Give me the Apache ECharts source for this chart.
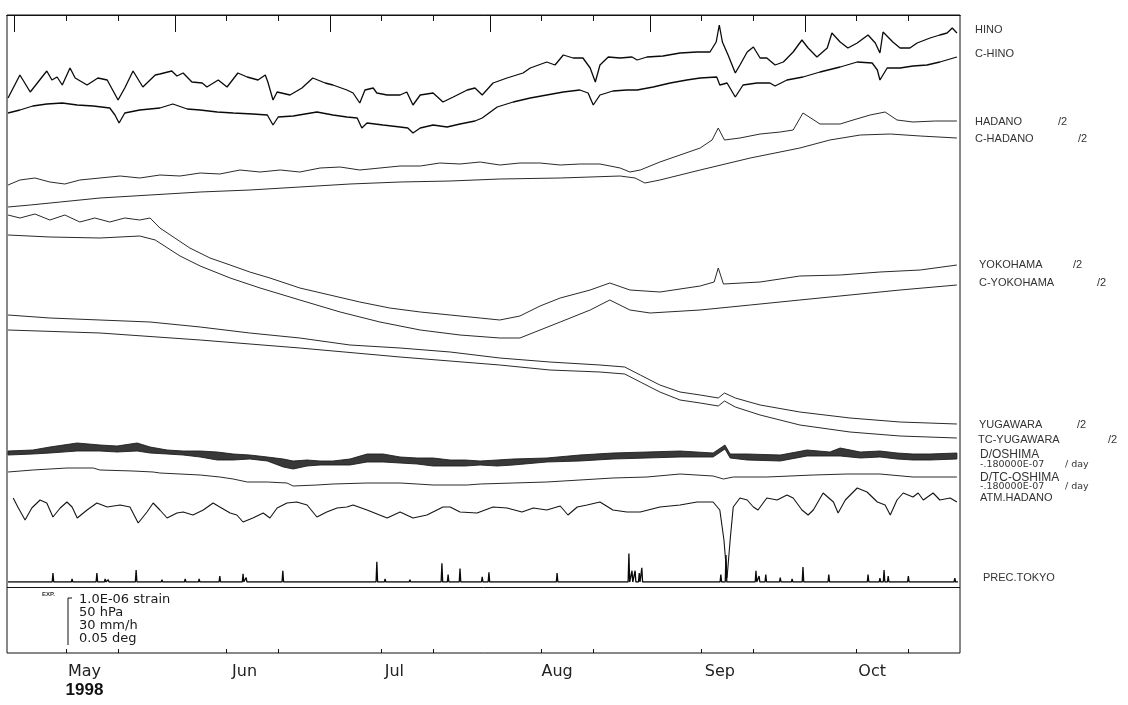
<!DOCTYPE html>
<html>
<head>
<meta charset="utf-8">
<script src="https://cdn.jsdelivr.net/npm/echarts@6/dist/echarts.min.js"></script>
<style>
html, body { margin: 0; padding: 0; background: #fff; }
#chart { width: 1128px; height: 705px; }
</style>
</head>
<body>
<div id="chart"></div>
<script>
// Time axis: day 0 = 1 May 1998. Trace levels are in plot units (offset strip chart, 0 = top edge).
const monthStarts = [0, 31, 61, 92, 123, 153];
const tenDayMarks = [10, 20, 41, 51, 71, 81, 102, 112, 133, 143, 163, 173];
const monthNames = ['May', 'Jun', 'Jul', 'Aug', 'Sep', 'Oct'];
const monthLabelDays = [13.5, 44.5, 73.5, 105, 136.5, 166];
const yearLabel = '1998';

const traceNames = ['HINO', 'C-HINO', 'HADANO', 'C-HADANO', 'YOKOHAMA', 'C-YOKOHAMA',
  'YUGAWARA', 'TC-YUGAWARA', 'D/OSHIMA', 'D/TC-OSHIMA', 'ATM.HADANO', 'PREC.TOKYO'];
const traceDivisors = ['', '', '/2', '/2', '/2', '/2', '/2', '/2', '', '', '', ''];
const driftRate = '-.180000E-07';
const driftUnit = '/ day';
const scaleNotes = ['1.0E-06 strain', '50 hPa', '30 mm/h', '0.05 deg'];
const expNote = 'EXP.';

const hino = [[-1.3,83],[1.0,60],[3.0,77],[6.2,56],[7.2,65],[8.2,62],[9.2,70],[10.7,53],[11.7,63],[14.0,70],[16.1,63],[17.9,65],[20.0,85],[21.3,73],[22.9,56],[24.8,72],[27.2,60],[28.1,59],[30.4,56],[31.4,61],[32.6,58],[34.3,67],[36.3,68],[37.2,72],[39.4,65],[41.1,72],[43.2,58],[45.0,62],[47.1,65],[48.5,60],[49.0,67],[50.0,85],[50.8,77],[53.3,80],[55.6,73],[57.7,63],[60.1,68],[61.6,70],[64.3,75],[65.5,78],[66.8,88],[67.8,75],[69.4,73],[70.1,78],[72.1,80],[74.6,80],[75.9,77],[77.1,90],[78.5,80],[81.0,78],[82.9,87],[84.9,82],[87.6,75],[89.1,73],[90.5,80],[92.6,68],[95.3,63],[98.4,58],[99.8,53],[103.0,47],[104.6,50],[106.2,40],[108.1,43],[110.0,43],[111.4,53],[112.4,67],[113.3,50],[114.9,42],[117.2,43],[119.5,42],[120.5,45],[122.4,42],[125.5,41],[128.8,38],[132.1,37],[134.6,37],[135.8,27],[136.4,10],[137.0,27],[138.1,40],[139.5,58],[140.4,50],[141.8,37],[143.0,32],[144.3,43],[145.6,43],[147.2,50],[148.8,47],[150.7,37],[152.4,25],[153.6,33],[155.3,42],[157.3,33],[158.2,18],[159.8,27],[161.3,33],[163.1,28],[165.2,20],[166.6,28],[167.5,38],[168.1,17],[170.0,27],[171.4,33],[173.3,33],[174.7,28],[177.2,23],[179.1,20],[180.5,18],[181.5,13],[182.4,18]];

const cHino = [[-1.3,98],[1.0,95],[3.5,91],[6.2,89],[9.2,88],[12.1,90],[15.2,91],[18.4,93],[19.4,100],[20.2,108],[21.3,98],[24.2,95],[28.1,93],[30.6,89],[33.4,94],[35.9,95],[39.2,97],[42.3,98],[46.1,99],[48.9,100],[50.0,110],[51.0,102],[53.9,101],[58.5,97],[61.6,100],[64.3,102],[66.3,103],[67.2,113],[68.2,108],[71.3,110],[74.6,112],[76.1,113],[77.1,118],[78.5,113],[81.0,110],[83.7,112],[86.2,109],[89.1,106],[90.5,103],[93.4,92],[96.5,87],[99.8,83],[103.0,80],[106.2,77],[109.4,75],[111.0,78],[112.0,90],[113.3,80],[115.8,76],[118.5,75],[120.5,75],[123.6,72],[126.9,68],[130.1,65],[132.7,63],[135.9,62],[136.5,70],[137.9,68],[139.5,82],[141.0,70],[143.7,68],[146.2,68],[147.2,71],[149.5,65],[152.6,62],[155.9,57],[159.8,52],[163.1,47],[166.0,48],[167.0,55],[167.5,65],[168.9,53],[171.4,53],[173.9,51],[176.6,50],[179.1,47],[182.4,42]];

const hadano = [[-1.3,170],[1.0,165],[3.9,163],[6.8,167],[9.7,169],[12.6,165],[16.5,163],[20.4,161],[24.2,163],[28.1,160],[32.0,161],[35.9,158],[39.7,159],[43.6,155],[47.5,157],[51.4,155],[55.2,157],[59.1,153],[63.0,152],[66.8,155],[70.7,153],[74.6,151],[78.5,151],[82.3,148],[86.2,149],[90.1,147],[93.9,150],[97.8,148],[101.7,148],[105.6,150],[109.4,149],[113.3,149],[117.2,153],[119.1,157],[121.1,155],[124.9,147],[128.8,140],[132.7,133],[135.0,125],[136.2,113],[137.4,125],[140.4,123],[144.3,119],[148.2,117],[150.7,115],[152.6,98],[155.9,109],[159.8,109],[162.3,105],[165.6,100],[168.5,97],[170.8,105],[173.9,107],[178.2,106],[182.4,106]];

const cHadano = [[-1.3,192],[3.0,190],[8.8,187],[16.5,183],[26.2,180],[35.9,177],[45.5,175],[55.2,172],[64.9,169],[74.6,167],[84.3,166],[93.9,164],[105.6,163],[117.2,161],[120.1,163],[122.0,168],[124.9,165],[132.7,155],[142.4,143],[152.0,133],[157.8,125],[163.7,120],[169.5,119],[175.3,121],[182.4,123]];

const yokohama = [[-1.3,200],[1.0,203],[3.9,199],[6.8,205],[9.7,200],[12.6,207],[15.5,203],[18.4,207],[21.3,203],[24.2,205],[26.2,203],[28.1,213],[31.0,223],[33.9,233],[37.8,243],[41.7,250],[45.5,257],[49.4,263],[55.2,273],[61.0,280],[66.8,287],[72.6,293],[78.5,297],[84.3,300],[90.1,303],[93.9,305],[97.8,301],[101.7,291],[105.6,283],[111.4,275],[115.2,268],[119.1,275],[124.9,277],[132.7,271],[135.4,267],[136.2,253],[137.2,269],[144.3,267],[152.0,261],[159.8,260],[167.5,257],[175.3,255],[182.4,250]];

const cYokohama = [[-1.3,220],[6.8,222],[16.5,223],[24.2,221],[27.2,225],[32.0,241],[35.9,251],[41.7,263],[47.5,273],[55.2,285],[63.0,297],[70.7,307],[78.5,315],[86.2,320],[93.9,323],[97.8,323],[101.7,315],[105.6,307],[111.4,295],[115.2,285],[119.1,295],[123.0,298],[132.7,295],[142.4,290],[152.0,285],[161.7,280],[171.4,275],[182.4,270]];

const yugawara = [[-1.3,300],[6.8,303],[16.5,305],[26.2,307],[35.9,312],[45.5,318],[55.2,323],[64.9,330],[74.6,333],[84.3,337],[93.9,343],[103.6,347],[113.3,350],[118.1,352],[121.1,360],[124.9,370],[128.8,377],[132.7,380],[136.2,383],[137.4,378],[139.5,383],[144.3,390],[152.0,397],[161.7,403],[171.4,407],[182.4,409]];

const tcYugawara = [[-1.3,315],[16.5,318],[35.9,325],[55.2,333],[74.6,342],[93.9,350],[103.6,355],[113.3,357],[118.1,359],[121.1,367],[124.9,377],[128.8,385],[132.7,388],[136.2,391],[137.4,386],[139.5,392],[144.3,400],[152.0,410],[161.7,417],[171.4,421],[182.4,423]];

// D/OSHIMA: centre level and half-spread of the daily tidal swing
const oshima = [[-1.3,438],[3.5,437],[6.8,435],[12.1,432],[16.5,433],[19.8,434],[23.7,432],[26.2,435],[29.5,437],[32.6,438],[35.9,439],[39.2,441],[42.3,442],[45.5,442],[48.9,444],[52.0,448],[53.9,450],[56.6,448],[59.1,448],[61.6,448],[64.9,447],[68.2,443],[71.3,443],[74.6,445],[77.9,446],[81.0,447],[84.3,448],[87.2,448],[90.1,448],[93.4,448],[96.5,447],[103.0,445],[109.4,443],[115.8,441],[122.4,440],[128.8,439],[135.2,440],[137.5,432],[138.5,441],[141.8,442],[148.2,443],[153.4,438],[157.8,439],[159.8,437],[163.7,440],[167.5,439],[170.8,441],[173.9,442],[177.2,442],[182.4,441]];
const oshimaSpread = [2,2,3,4,3,3,4,3,2,2,3,4,3,2,2,4,4,3,2,2,3,4,4,3,3,4,3,3,2,3,3,2,3,3,3,3,2,2,2,3,3,3,2,4,3,3,3,3,3,3];

const tcOshima = [[-1.3,457],[3.5,455],[10.1,453],[15.2,453],[16.5,455],[22.9,456],[26.8,457],[28.1,458],[35.9,460],[39.7,462],[42.3,464],[45.0,467],[48.9,467],[52.7,468],[53.9,471],[58.5,470],[61.6,469],[68.2,468],[74.6,468],[77.9,469],[81.0,470],[87.6,470],[90.1,469],[96.5,468],[103.0,467],[109.4,465],[115.8,463],[122.4,462],[128.8,459],[135.2,461],[137.2,464],[139.1,462],[145.6,462],[154.6,460],[161.1,459],[167.5,459],[173.9,462],[182.4,462]];

const atmHadano = [[-0.3,483],[0.6,492],[2.0,505],[3.3,493],[4.9,485],[6.2,488],[7.4,502],[8.8,493],[10.1,487],[11.1,492],[12.1,503],[14.0,495],[15.9,488],[17.9,492],[20.4,490],[22.3,492],[23.9,508],[25.6,497],[26.8,488],[28.1,495],[29.5,503],[31.4,498],[32.6,497],[34.5,500],[36.5,495],[38.4,488],[39.7,492],[41.7,498],[43.0,500],[44.2,507],[46.1,503],[48.1,498],[49.4,503],[50.8,493],[52.7,488],[54.6,487],[56.6,490],[58.5,502],[60.4,497],[62.4,493],[64.3,492],[65.5,490],[68.2,495],[72.1,503],[74.6,497],[77.1,503],[79.8,500],[82.9,492],[84.3,492],[86.2,497],[89.5,498],[92.6,492],[95.3,493],[98.2,497],[100.4,493],[103.0,495],[105.6,491],[107.1,500],[108.9,492],[110.8,490],[113.3,487],[115.8,495],[118.5,497],[121.1,497],[124.9,492],[128.8,490],[132.1,487],[135.2,487],[136.5,495],[137.3,525],[137.9,563],[138.5,525],[139.1,492],[140.4,483],[141.8,485],[143.0,492],[143.9,495],[145.6,483],[147.6,485],[149.5,480],[150.7,483],[152.4,495],[153.6,500],[154.6,495],[156.5,478],[158.5,487],[159.4,498],[160.8,485],[163.1,473],[165.0,477],[167.0,487],[168.5,490],[169.5,500],[170.8,485],[172.0,478],[173.9,482],[174.9,478],[175.9,485],[177.8,478],[179.1,485],[181.1,483],[182.4,487]];

// Hourly precipitation peaks, mm/h
const precipDays = [7.4, 11.1, 15.9, 17.5, 18.1, 23.5, 28.5, 33.0, 35.7, 39.7, 44.2, 44.8, 51.9, 70.1, 71.7, 76.5, 82.7, 83.9, 86.2, 90.5, 91.8, 105.0, 118.9, 119.5, 120.1, 120.9, 121.4, 136.7, 137.7, 143.5, 144.1, 145.4, 148.2, 150.5, 152.6, 157.6, 165.2, 167.5, 168.3, 169.1, 173.0, 182.0];
const precipRate = [6, 2, 6, 2, 1.5, 8, 1.5, 2, 2, 4, 5.5, 3, 7.5, 13.5, 2, 1.5, 12.5, 5, 9, 3.5, 6.5, 6, 19, 7.5, 7.5, 6, 9.5, 5, 18, 7.5, 4, 5, 3, 2, 10, 5, 5, 2.5, 8, 4, 4, 2.5];

const chart = echarts.init(document.getElementById('chart'), null, { renderer: 'canvas' });

const INK = '#111';
const TRACE = '#2a2a2a';

function trace(name, data, width, color, extra) {
  return Object.assign({
    name: name, type: 'line', xAxisIndex: 0, yAxisIndex: 0, data: data,
    showSymbol: false, symbol: 'none', silent: true, animation: false,
    lineStyle: { width: width, color: color }
  }, extra || {});
}

// tidal envelope of D/OSHIMA drawn as a filled band through the axis scales
const oshimaEnvelope = {
  name: 'D/OSHIMA', type: 'custom', xAxisIndex: 0, yAxisIndex: 0,
  silent: true, animation: false, clip: true,
  data: [oshima[0]],
  renderItem: function (params, api) {
    const upper = oshima.map((p, i) => api.coord([p[0], p[1] - oshimaSpread[i]]));
    const lower = oshima.map((p, i) => api.coord([p[0], p[1] + oshimaSpread[i]])).reverse();
    return {
      type: 'polygon',
      shape: { points: upper.concat(lower) },
      style: { fill: '#1c1c1c', stroke: '#1c1c1c', lineWidth: 1, opacity: 0.88 }
    };
  }
};

const precipLine = [[-1.3, 0]];
precipDays.forEach((d, i) => {
  precipLine.push([d - 0.15, 0], [d, precipRate[i]], [d + 0.15, 0]);
});
precipLine.push([182.6, 0]);

const xRange = { min: -1.5, max: 183 };

function xAxisBase(extra) {
  return Object.assign({
    type: 'value', gridIndex: 0, min: xRange.min, max: xRange.max,
    splitLine: { show: false },
    axisLine: { show: false },
    axisLabel: { show: false },
    axisTick: { show: false }
  }, extra);
}

// right-hand trace captions
const labelLayout = [
  { y: 30, x: 975 }, { y: 54, x: 975 },
  { y: 122, x: 975, sx: 1058 }, { y: 139, x: 975, sx: 1078 },
  { y: 265, x: 979, sx: 1073 }, { y: 283, x: 979, sx: 1097 },
  { y: 425, x: 979, sx: 1077 }, { y: 440, x: 978, sx: 1108 },
  { y: 455, x: 980, big: true, note: 465 }, { y: 478, x: 980, big: true, note: 487 },
  { y: 498, x: 980 }, { y: 578, x: 983 }
];
const graphics = [];
const capFont = 'Liberation Sans';
labelLayout.forEach((l, i) => {
  graphics.push({ type: 'text', x: l.x, y: l.y, silent: true,
    style: { text: traceNames[i], fill: '#333', font: (l.big ? '12px ' : '11px ') + capFont, verticalAlign: 'middle' } });
  if (l.sx && traceDivisors[i]) {
    graphics.push({ type: 'text', x: l.sx, y: l.y, silent: true,
      style: { text: traceDivisors[i], fill: '#333', font: '11px ' + capFont, verticalAlign: 'middle' } });
  }
  if (l.note) {
    graphics.push({ type: 'text', x: l.x, y: l.note, silent: true,
      style: { text: driftRate, fill: '#333', font: '9.5px DejaVu Sans', verticalAlign: 'middle' } });
    graphics.push({ type: 'text', x: 1065, y: l.note, silent: true,
      style: { text: driftUnit, fill: '#333', font: '9.5px DejaVu Sans', verticalAlign: 'middle' } });
  }
});
// scale key in the lower box
graphics.push({ type: 'text', x: 42, y: 594, silent: true,
  style: { text: expNote, fill: '#333', font: 'bold 6px Liberation Sans', verticalAlign: 'middle' } });
graphics.push({ type: 'polyline', silent: true,
  shape: { points: [[72, 598], [68, 598], [68, 645]] },
  style: { stroke: INK, lineWidth: 1, fill: null } });
scaleNotes.forEach((t, i) => {
  graphics.push({ type: 'text', x: 79, y: 600 + i * 13, silent: true,
    style: { text: t, fill: '#1a1a1a', font: '13px DejaVu Sans', verticalAlign: 'middle' } });
});

const option = {
  animation: false,
  backgroundColor: '#fff',
  grid: [
    { left: 7, right: 168, top: 15, bottom: 52, show: true, borderColor: INK, borderWidth: 1,
      backgroundColor: 'transparent', containLabel: false, outerBoundsMode: 'none' },
    { left: 7, right: 168, top: 537, height: 45, show: false, containLabel: false, outerBoundsMode: 'none' }
  ],
  xAxis: [
    xAxisBase({
      position: 'bottom',
      axisLine: { show: true, lineStyle: { color: INK, width: 1 } },
      axisTick: { show: true, customValues: monthStarts, length: 17, inside: false, lineStyle: { color: INK, width: 1 } },
      axisLabel: {
        show: true, customValues: monthLabelDays, margin: 9,
        color: '#222', fontFamily: 'DejaVu Sans', fontSize: 16, lineHeight: 19,
        formatter: function (v) {
          const i = monthLabelDays.findIndex(d => Math.abs(d - v) < 0.01);
          const name = i >= 0 ? monthNames[i] : '';
          return i === 0 ? name + '\n{yr|' + yearLabel + '}' : name;
        },
        rich: { yr: { fontFamily: 'Liberation Sans', fontWeight: 'bold', fontSize: 17, lineHeight: 19, color: '#111' } }
      }
    }),
    xAxisBase({
      position: 'bottom',
      axisTick: { show: true, customValues: tenDayMarks, length: 4, inside: true, lineStyle: { color: INK, width: 1 } }
    }),
    xAxisBase({
      position: 'top',
      axisLine: { show: true, lineStyle: { color: INK, width: 1 } },
      axisTick: { show: true, customValues: monthStarts, length: 10, inside: true, lineStyle: { color: INK, width: 1 } }
    }),
    xAxisBase({
      position: 'top',
      axisTick: { show: true, customValues: tenDayMarks, length: 6, inside: true, lineStyle: { color: INK, width: 1 } }
    }),
    { type: 'value', gridIndex: 1, min: xRange.min, max: xRange.max, show: false }
  ],
  yAxis: [
    { type: 'value', gridIndex: 0, min: 0, max: 638, inverse: true, show: false, splitLine: { show: false } },
    { type: 'value', gridIndex: 1, min: 0, max: 30, show: false, splitLine: { show: false } }
  ],
  series: [
    trace('HINO', hino, 1.3, '#0a0a0a'),
    trace('C-HINO', cHino, 1.3, '#0a0a0a'),
    trace('HADANO', hadano, 1, TRACE),
    trace('C-HADANO', cHadano, 1, TRACE),
    trace('YOKOHAMA', yokohama, 1, TRACE),
    trace('C-YOKOHAMA', cYokohama, 1, TRACE),
    trace('YUGAWARA', yugawara, 1, TRACE),
    trace('TC-YUGAWARA', tcYugawara, 1, TRACE),
    oshimaEnvelope,
    trace('D/TC-OSHIMA', tcOshima, 1, TRACE),
    trace('ATM.HADANO', atmHadano, 1.1, '#151515', {
      markLine: {
        silent: true, symbol: ['none', 'none'], label: { show: false }, animation: false,
        lineStyle: { color: INK, width: 1, type: 'solid' },
        data: [{ yAxis: 572 }]
      }
    }),
    {
      name: 'PREC.TOKYO', type: 'line', xAxisIndex: 4, yAxisIndex: 1, data: precipLine,
      showSymbol: false, symbol: 'none', silent: true, animation: false,
      lineStyle: { width: 1.3, color: '#0a0a0a' }
    }
  ],
  graphic: graphics
};

chart.setOption(option);
</script>
</body>
</html>
